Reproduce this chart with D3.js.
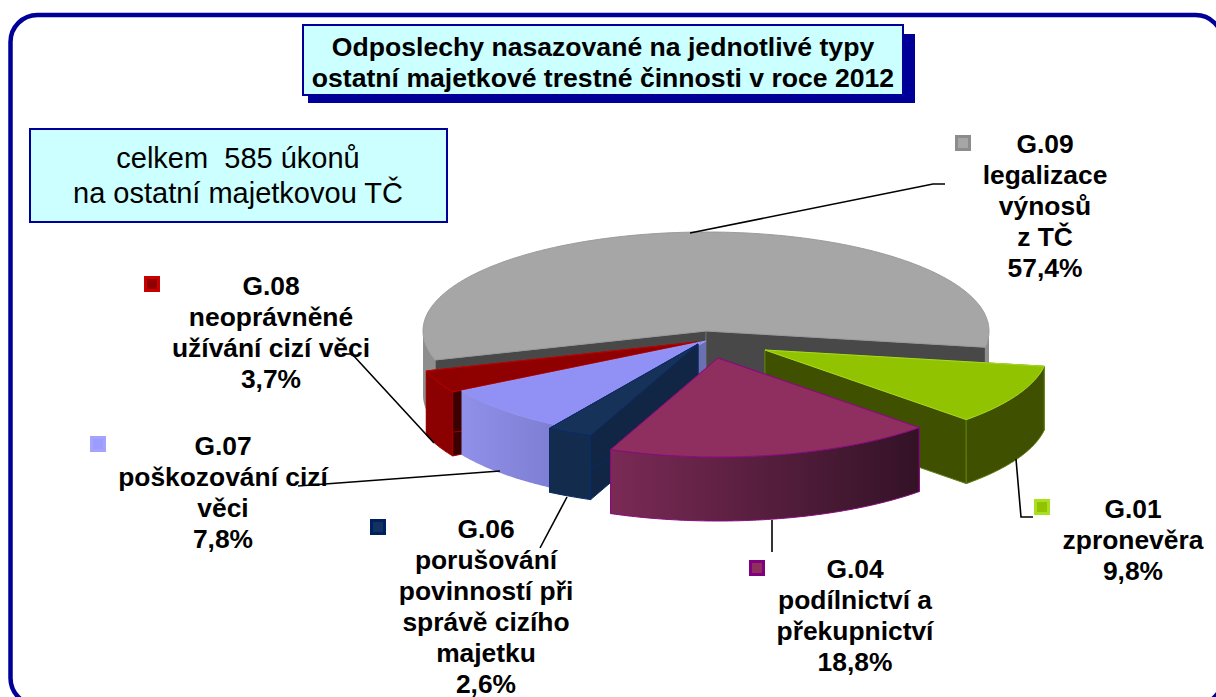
<!DOCTYPE html>
<html><head><meta charset="utf-8">
<style>html,body{margin:0;padding:0;background:#fff;overflow:hidden}svg{display:block}text{font-family:"Liberation Sans",Arial,sans-serif;fill:#000}</style>
<script src="https://cdn.jsdelivr.net/npm/d3@7/dist/d3.min.js"></script>
</head><body><svg id="c" width="1216" height="697"></svg>
<script>
// ---- data
const categories = ["G.09","G.01","G.04","G.06","G.07","G.08"];
const values = [57.4,9.8,18.8,2.6,7.8,3.7];
const valueLabels = ["57,4%","9,8%","18,8%","2,6%","7,8%","3,7%"];
const descriptions = [
  ["legalizace","výnosů","z TČ"],
  ["zpronevěra"],
  ["podílnictví a","překupnictví"],
  ["porušování","povinností při","správě cizího","majetku"],
  ["poškozování cizí","věci"],
  ["neoprávněné","užívání cizí věci"]
];
const titleLines = ["Odposlechy nasazované na jednotlivé typy","ostatní majetkové trestné činnosti v roce 2012"];
const infoLines = ["celkem  585 úkonů","na ostatní majetkovou TČ"];

// ---- styles and layout
const topFill  = ["#a6a6a6","#92c300","#8f2f60","#163258","#9191f5","#8f0000"];
const edgeCol  = ["#9a9a9a","#a8dc20","#8a0a80","#0a2a68","#9898f8","#c00000"];
const faceFill = ["#484848","#3f5000","#3f1530","#102644","#6a70b0","#3c0000"];
const wallFrom = ["#8e8e8e","#3f5000","#7a2a55","#132c4d","#9090ea","#8b0000"];
const wallTo   = ["#858585","#3f5000","#331226","#132c4d","#7d7dd2","#8b0000"];
const wallEdge = ["none","#5f7d10","#8a0a80","#0a2a68","none","#a00000"];
const explodeX = [0,59,12,-8,0,-9];
const explodeY = [0,19,27,13,10,11];
const paintOrder = [0,5,4,3,1,2];
const labelX = [1045,1133,855,486,223,271];
const labelY = [153,518,578,538,455,295];
const markerX = [955,1034,749,370,90,144];
const markerY = [135,499,560,519,436,276];
const markerFill = ["#a6a6a6","#92c300","#8f2f60","#123262","#9c9cff","#8f0000"];
const markerEdge = ["#8c8c8c","#a8e020","#800080","#002060","#a4a4ff","#c80000"];
const leaders = [
  [[690,233],[933,184],[945,184]],
  [[1016,459],[1021,517],[1033,517]],
  [[772,520],[772,552]],
  [[567,497],[540,548]],
  [[500,471],[298,486]],
  [[434,443],[352,354],[342,354]]
];
const cx = 706, cy = 331, rx = 283, ry = 99, depth = 64;
const NAVY = "#000099";

const svg = d3.select("#c");
const defs = svg.append("defs");

// frame
svg.append("rect").attr("x",10.5).attr("y",15).attr("width",1212).attr("height",690)
  .attr("rx",27).attr("ry",27).attr("fill","#fff").attr("stroke",NAVY).attr("stroke-width",4.5);

// title box
svg.append("rect").attr("x",308).attr("y",34).attr("width",607).attr("height",69).attr("fill",NAVY);
svg.append("rect").attr("x",303).attr("y",25).attr("width",600).attr("height",70)
  .attr("fill","#ccffff").attr("stroke",NAVY).attr("stroke-width",2);
svg.selectAll("text.t").data(titleLines).join("text").attr("class","t")
  .attr("x",603).attr("y",(d,i)=>56+i*31).attr("text-anchor","middle")
  .attr("font-size",26.6).attr("font-weight","bold").text(d=>d);

// info box
svg.append("rect").attr("x",30).attr("y",129).attr("width",417).attr("height",93)
  .attr("fill","#ccffff").attr("stroke",NAVY).attr("stroke-width",2);
svg.selectAll("text.i").data(infoLines).join("text").attr("class","i")
  .attr("x",238).attr("y",(d,i)=>168+i*35).attr("text-anchor","middle").attr("xml:space","preserve")
  .style("white-space","pre").attr("font-size",29).text(d=>d);

// pie geometry
const pie = d3.pie().sort(null).startAngle(253*Math.PI/180).endAngle((253+360)*Math.PI/180);
const arcs = pie(values);
const sx = d3.scaleLinear().domain([-1,1]).range([-rx,rx]);
const sy = d3.scaleLinear().domain([-1,1]).range([-ry,ry]);
const pt = (i,a,dz=0)=>[cx+explodeX[i]+sx(Math.sin(a)), cy+explodeY[i]+sy(-Math.cos(a))+dz];
const apex = (i,dz=0)=>[cx+explodeX[i], cy+explodeY[i]+dz];
const line = d3.line();
const sample = (a0,a1)=>{const n=Math.max(2,Math.ceil(Math.abs(a1-a0)/0.01));return d3.range(n+1).map(k=>a0+(a1-a0)*k/n);};

const g = svg.append("g");
paintOrder.forEach(i=>{
  const a = arcs[i], s = g.append("g");
  // cut faces
  [a.startAngle,a.endAngle].forEach(e=>{
    s.append("path").attr("d",line([apex(i),pt(i,e),pt(i,e,depth),apex(i,depth)])+"Z")
     .attr("fill",faceFill[i]).attr("stroke",i===0?"#6a6a6a":wallEdge[i]).attr("stroke-width",1);
  });
  // outer wall: only the part facing the viewer (lower half of the ellipse)
  const gid = "w"+i;
  const lg = defs.append("linearGradient").attr("id",gid).attr("gradientUnits","userSpaceOnUse")
    .attr("x1",pt(i,a.endAngle)[0]).attr("x2",pt(i,a.startAngle)[0]).attr("y1",0).attr("y2",0);
  lg.append("stop").attr("offset",0).attr("stop-color",wallFrom[i]);
  lg.append("stop").attr("offset",1).attr("stop-color",wallTo[i]);
  [Math.PI/2,Math.PI*5/2].forEach(k=>{
    const lo=Math.max(a.startAngle,k), hi=Math.min(a.endAngle,k+Math.PI);
    if(hi<=lo) return;
    const ss=sample(lo,hi);
    const pts=ss.map(t=>pt(i,t)).concat(ss.slice().reverse().map(t=>pt(i,t,depth)));
    s.append("path").attr("d",line(pts)+"Z").attr("fill",i===0?wallFrom[0]:`url(#${gid})`)
     .attr("stroke",wallEdge[i]).attr("stroke-width",1);
  });
  // top
  const ss=sample(a.startAngle,a.endAngle);
  s.append("path").attr("d",line([apex(i)].concat(ss.map(t=>pt(i,t))))+"Z")
   .attr("fill",topFill[i]).attr("stroke",edgeCol[i]).attr("stroke-width",1);
});

// leader lines
const leaderLine = d3.line();
svg.selectAll("path.l").data(leaders).join("path").attr("class","l")
  .attr("d",d=>leaderLine(d)).attr("fill","none").attr("stroke","#000").attr("stroke-width",1.6);

// labels
categories.forEach((c,i)=>{
  const lines=[c].concat(descriptions[i],[valueLabels[i]]);
  svg.selectAll("text.lb"+i).data(lines).join("text").attr("class","lb"+i)
    .attr("x",labelX[i]).attr("y",(d,k)=>labelY[i]+k*30.9).attr("text-anchor","middle")
    .attr("font-size",26.4).attr("font-weight","bold").text(d=>d);
  svg.append("rect").attr("x",markerX[i]+1.5).attr("y",markerY[i]+1.5).attr("width",13).attr("height",13)
    .attr("fill",markerFill[i]).attr("stroke",markerEdge[i]).attr("stroke-width",3);
});
</script></body></html>
